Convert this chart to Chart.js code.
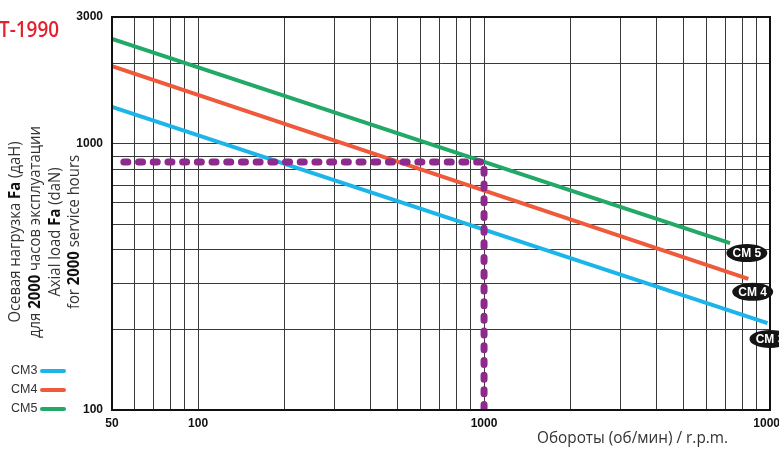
<!DOCTYPE html>
<html lang="ru">
<head>
<meta charset="UTF-8">
<title>Осевая нагрузка Fa</title>
<script src="https://cdn.jsdelivr.net/npm/chart.js"></script>
<style>
  html, body { margin: 0; padding: 0; background: #fff; }
  #wrap { width: 779px; height: 449px; position: relative; }
</style>
</head>
<body>
<div id="wrap"><canvas id="chart" width="779" height="449"></canvas></div>
<script>
// values (log-log, straight lines -> two ends each)
const rpmCM3 = [50, 9800];
const loadCM3 = [1377, 212];
const rpmCM4 = [50, 8400];
const loadCM4 = [1960, 311];
const rpmCM5 = [50, 7250];
const loadCM5 = [2480, 424];
// example reading: 1000 r.p.m. -> ~855 daN
const guideRpm = [55, 1000, 1000];
const guideLoad = [855, 855, 100];

const xGrid = [50, 60, 70, 80, 90, 100, 200, 300, 400, 500, 600, 700, 800, 900,
  1000, 2000, 3000, 4000, 5000, 6000, 7000, 8000, 9000, 10000];
const xTickLabels = [50, 100, 1000, 10000];
const yGrid = [100, 200, 300, 400, 500, 600, 700, 800, 900, 1000, 2000, 3000];
const yTickLabels = [100, 1000, 3000];

const legendNames = ['CM3', 'CM4', 'CM5'];
const seriesColors = ['#1cb5ea', '#ef5a3a', '#22a867'];
const guideColor = '#8c2a8e';

const tagNames = ['CM 5', 'CM 4', 'CM 3'];
const tagRpm = [8300, 8700, 10000];
const tagLoad = [389, 278, 185];

const toPts = (xs, ys) => xs.map((x, i) => ({ x: x, y: ys[i] }));

const lineDs = (label, xs, ys, color, order) => ({
  label: label,
  data: toPts(xs, ys),
  borderColor: color,
  borderWidth: 4,
  borderCapStyle: 'butt',
  pointRadius: 0,
  fill: false,
  order: order
});

// draw mixed regular/bold text, squeezed horizontally by sx
function richText(ctx, parts, x, y, size, sx) {
  let w = 0;
  parts.forEach(p => {
    ctx.font = (p[1] ? 'bold ' : '') + size + 'px "Open Sans"';
    w += ctx.measureText(p[0]).width;
  });
  ctx.save();
  ctx.translate(x, y);
  ctx.scale(sx, 1);
  let cx = -w / 2;
  parts.forEach(p => {
    ctx.font = (p[1] ? 'bold ' : '') + size + 'px "Open Sans"';
    ctx.fillStyle = p[1] ? '#111' : '#333';
    ctx.fillText(p[0], cx, 0);
    cx += ctx.measureText(p[0]).width;
  });
  ctx.restore();
}

const extras = {
  id: 'extras',
  afterDatasetsDraw(chart) {
    const ctx = chart.ctx;
    const a = chart.chartArea;
    const xs = chart.scales.x, ys = chart.scales.y;

    // frame
    ctx.save();
    ctx.strokeStyle = '#111';
    ctx.lineWidth = 2;
    ctx.strokeRect(a.left, a.top, a.right - a.left, a.bottom - a.top);

    // tags at line ends
    tagNames.forEach((t, i) => {
      const px = xs.getPixelForValue(tagRpm[i]);
      const py = ys.getPixelForValue(tagLoad[i]);
      ctx.beginPath();
      ctx.ellipse(px, py, 20.5, 9, 0, 0, Math.PI * 2);
      ctx.fillStyle = '#141414';
      ctx.fill();
      ctx.fillStyle = '#fff';
      ctx.font = 'bold 12px "Liberation Sans"';
      ctx.textAlign = 'center';
      ctx.textBaseline = 'middle';
      ctx.fillText(t, px, py + 1);
    });

    // red model name (cut at the left edge)
    ctx.fillStyle = '#e5202e';
    ctx.font = '600 22px "Open Sans"';
    ctx.textAlign = 'right';
    ctx.textBaseline = 'alphabetic';
    ctx.fillText('T-1990', 59, 37, 60);

    // x axis title
    ctx.fillStyle = '#333';
    ctx.font = '17px "Open Sans"';
    ctx.textAlign = 'left';
    ctx.fillText('Обороты (об/мин) / r.p.m.', 537, 443, 191);

    // y axis title, rotated
    ctx.save();
    ctx.translate(0, 232);
    ctx.rotate(-Math.PI / 2);
    ctx.textAlign = 'left';
    ctx.textBaseline = 'middle';
    const rows = [
      [['Осевая нагрузка ', 0], ['Fa', 1], [' (даН)', 0]],
      [['для ', 0], ['2000', 1], [' часов эксплуатации', 0]],
      [['Axial load ', 0], ['Fa', 1], [' (daN)', 0]],
      [['for ', 0], ['2000', 1], [' service hours', 0]]
    ];
    const rowX = [15, 35, 55, 74];
    rows.forEach((r, i) => richText(ctx, r, 0, rowX[i], 16, 0.93));
    ctx.restore();

    // legend
    ctx.font = '12.5px "Liberation Sans"';
    ctx.textAlign = 'left';
    ctx.textBaseline = 'middle';
    legendNames.forEach((n, i) => {
      const y = 371 + i * 19;
      ctx.fillStyle = '#333';
      ctx.fillText(n, 11, y);
      ctx.beginPath();
      ctx.moveTo(42, y);
      ctx.lineTo(64, y);
      ctx.strokeStyle = seriesColors[i];
      ctx.lineWidth = 4;
      ctx.lineCap = 'round';
      ctx.stroke();
    });
    ctx.restore();
  }
};

const tickFont = { family: 'Liberation Sans', weight: 'bold', size: 12 };

new Chart(document.getElementById('chart'), {
  type: 'line',
  data: {
    datasets: [
      {
        label: 'guide',
        data: toPts(guideRpm, guideLoad),
        borderColor: guideColor,
        borderWidth: 7,
        borderDash: [4, 10.7],
        borderCapStyle: 'round',
        borderJoinStyle: 'round',
        pointRadius: 0,
        fill: false,
        order: 0
      },
      lineDs('CM3', rpmCM3, loadCM3, seriesColors[0], 3),
      lineDs('CM4', rpmCM4, loadCM4, seriesColors[1], 2),
      lineDs('CM5', rpmCM5, loadCM5, seriesColors[2], 1)
    ]
  },
  options: {
    responsive: false,
    animation: false,
    devicePixelRatio: 1,
    layout: { padding: { top: 17, right: 9, bottom: 0, left: 0 } },
    plugins: {
      legend: { display: false },
      tooltip: { enabled: false }
    },
    scales: {
      x: {
        type: 'logarithmic',
        min: 50,
        max: 10000,
        afterBuildTicks: s => { s.ticks = xGrid.map(v => ({ value: v })); },
        afterFit: s => { s.height = 39; s.paddingLeft = 0; s.paddingRight = 0; },
        ticks: {
          autoSkip: false,
          maxRotation: 0,
          minRotation: 0,
          padding: 6,
          color: '#111',
          font: tickFont,
          callback: v => xTickLabels.includes(v) ? String(v) : ''
        },
        grid: { color: '#3a3a3a', lineWidth: 1, drawTicks: false },
        border: { color: '#111', width: 2 }
      },
      y: {
        type: 'logarithmic',
        min: 100,
        max: 3000,
        afterBuildTicks: s => { s.ticks = yGrid.map(v => ({ value: v })); },
        afterFit: s => { s.width = 112; s.paddingTop = 0; s.paddingBottom = 0; },
        ticks: {
          autoSkip: false,
          padding: 9,
          color: '#111',
          font: tickFont,
          callback: v => yTickLabels.includes(v) ? String(v) : ''
        },
        grid: { color: '#3a3a3a', lineWidth: 1, drawTicks: false },
        border: { color: '#111', width: 2 }
      }
    }
  },
  plugins: [extras]
});
</script>
</body>
</html>
